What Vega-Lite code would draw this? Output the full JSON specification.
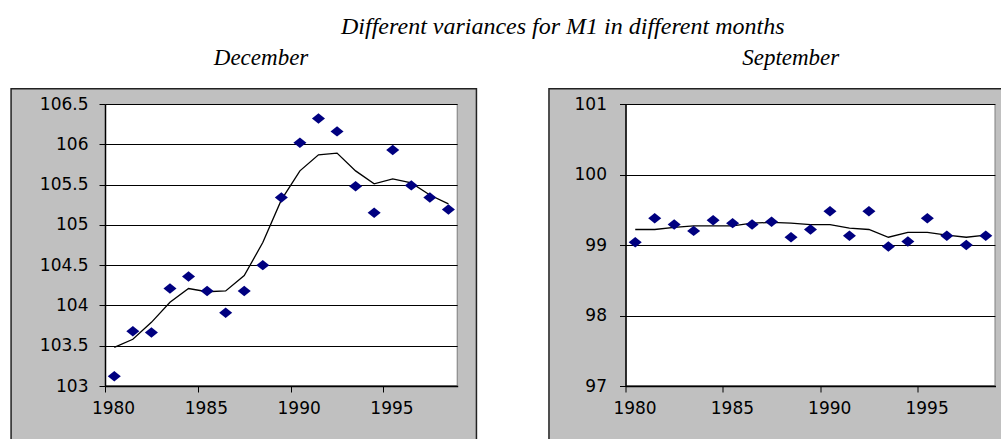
{
  "$schema": "https://vega.github.io/schema/vega-lite/v6.json",
  "background": "white",
  "padding": {"left": 9, "top": 15, "right": 0, "bottom": 0},
  "title": {"text": "Different variances for M1 in different months", "anchor": "middle", "dx": 50, "offset": -12.5, "baseline": "alphabetic", "font": "Liberation Serif", "fontStyle": "italic", "fontWeight": "normal", "fontSize": 24, "color": "black"},
  "bounds": "full",
  "spacing": 67.5,
  "datasets": {
    "dec": [
      {"year": 1980.5, "value": 103.12, "trend": 103.48},
      {"year": 1981.5, "value": 103.68, "trend": 103.58},
      {"year": 1982.5, "value": 103.665, "trend": 103.79},
      {"year": 1983.5, "value": 104.21, "trend": 104.04},
      {"year": 1984.5, "value": 104.36, "trend": 104.21},
      {"year": 1985.5, "value": 104.18, "trend": 104.17},
      {"year": 1986.5, "value": 103.91, "trend": 104.18},
      {"year": 1987.5, "value": 104.18, "trend": 104.37},
      {"year": 1988.5, "value": 104.5, "trend": 104.78},
      {"year": 1989.5, "value": 105.34, "trend": 105.31},
      {"year": 1990.5, "value": 106.02, "trend": 105.67},
      {"year": 1991.5, "value": 106.32, "trend": 105.87},
      {"year": 1992.5, "value": 106.16, "trend": 105.89},
      {"year": 1993.5, "value": 105.48, "trend": 105.67},
      {"year": 1994.5, "value": 105.15, "trend": 105.51},
      {"year": 1995.5, "value": 105.93, "trend": 105.57},
      {"year": 1996.5, "value": 105.49, "trend": 105.52},
      {"year": 1997.5, "value": 105.34, "trend": 105.37},
      {"year": 1998.5, "value": 105.19, "trend": 105.26}
    ],
    "sep": [
      {"year": 1980.5, "value": 99.04, "trend": 99.22},
      {"year": 1981.5, "value": 99.38, "trend": 99.22},
      {"year": 1982.5, "value": 99.29, "trend": 99.25},
      {"year": 1983.5, "value": 99.2, "trend": 99.27},
      {"year": 1984.5, "value": 99.35, "trend": 99.27},
      {"year": 1985.5, "value": 99.31, "trend": 99.27},
      {"year": 1986.5, "value": 99.29, "trend": 99.31},
      {"year": 1987.5, "value": 99.33, "trend": 99.32},
      {"year": 1988.5, "value": 99.11, "trend": 99.31},
      {"year": 1989.5, "value": 99.22, "trend": 99.29},
      {"year": 1990.5, "value": 99.48, "trend": 99.29},
      {"year": 1991.5, "value": 99.13, "trend": 99.24},
      {"year": 1992.5, "value": 99.48, "trend": 99.22},
      {"year": 1993.5, "value": 98.98, "trend": 99.11},
      {"year": 1994.5, "value": 99.05, "trend": 99.18},
      {"year": 1995.5, "value": 99.38, "trend": 99.18},
      {"year": 1996.5, "value": 99.13, "trend": 99.14},
      {"year": 1997.5, "value": 99.0, "trend": 99.11},
      {"year": 1998.5, "value": 99.13, "trend": 99.14}
    ]
  },
  "hconcat": [
    {
      "width": 352.7,
      "height": 282,
      "title": {"text": "December", "dx": -20.3, "offset": 0.4, "baseline": "alphabetic", "font": "Liberation Serif", "fontStyle": "italic", "fontWeight": "normal", "fontSize": 23, "color": "black"},
      "layer": [
        {"data": {"values": [{}]}, "mark": {"type": "rect", "fill": "#c0c0c0"},
         "encoding": {
           "x": {"datum": 1974.94, "type": "quantitative", "scale": {"domain": [1980, 1999], "nice": false, "zero": false}, "axis": null},
           "x2": {"datum": 1980},
           "y": {"datum": 102.18, "type": "quantitative", "scale": {"domain": [103, 106.5], "nice": false, "zero": false}, "axis": null},
           "y2": {"datum": 106.69}}},
        {"data": {"values": [{}]}, "mark": {"type": "rect", "fill": "#c0c0c0"},
         "encoding": {
           "x": {"datum": 1999, "type": "quantitative", "scale": {"domain": [1980, 1999], "nice": false, "zero": false}, "axis": null},
           "x2": {"datum": 2000.01},
           "y": {"datum": 102.18, "type": "quantitative", "scale": {"domain": [103, 106.5], "nice": false, "zero": false}, "axis": null},
           "y2": {"datum": 106.69}}},
        {"data": {"values": [{}]}, "mark": {"type": "rect", "fill": "#c0c0c0"},
         "encoding": {
           "x": {"datum": 1974.94, "type": "quantitative", "scale": {"domain": [1980, 1999], "nice": false, "zero": false}, "axis": null},
           "x2": {"datum": 2000.01},
           "y": {"datum": 106.5, "type": "quantitative", "scale": {"domain": [103, 106.5], "nice": false, "zero": false}, "axis": null},
           "y2": {"datum": 106.69}}},
        {"data": {"values": [{}]}, "mark": {"type": "rect", "fill": "#c0c0c0"},
         "encoding": {
           "x": {"datum": 1974.94, "type": "quantitative", "scale": {"domain": [1980, 1999], "nice": false, "zero": false}, "axis": null},
           "x2": {"datum": 2000.01},
           "y": {"datum": 102.18, "type": "quantitative", "scale": {"domain": [103, 106.5], "nice": false, "zero": false}, "axis": null},
           "y2": {"datum": 103}}},
        {"data": {"values": [{}]}, "mark": {"type": "rect", "fill": null, "stroke": "#222222", "strokeWidth": 1.5},
         "encoding": {
           "x": {"datum": 1974.94, "type": "quantitative", "scale": {"domain": [1980, 1999], "nice": false, "zero": false}, "axis": null},
           "x2": {"datum": 2000.01},
           "y": {"datum": 102.18, "type": "quantitative", "scale": {"domain": [103, 106.5], "nice": false, "zero": false}, "axis": null},
           "y2": {"datum": 106.69}}},
        {"data": {"name": "dec"}, "mark": {"type": "line", "color": "black", "strokeWidth": 1.3},
         "encoding": {
           "x": {"field": "year", "type": "quantitative", "scale": {"domain": [1980, 1999], "nice": false, "zero": false}, "axis": null},
           "y": {"field": "trend", "type": "quantitative", "scale": {"domain": [103, 106.5], "nice": false, "zero": false},
                 "axis": {"orient": "left", "grid": true, "gridColor": "black", "gridWidth": 1, "gridOpacity": 1, "labels": false, "ticks": false, "domain": false, "title": null, "zindex": 0, "values": [103, 103.5, 104, 104.5, 105, 105.5, 106, 106.5]}}}},
        {"data": {"name": "dec"}, "mark": {"type": "point", "shape": "M-1,0L0,-0.8L1,0L0,0.8Z", "size": 170, "filled": true, "color": "#000080", "opacity": 1},
         "encoding": {
           "x": {"field": "year", "type": "quantitative", "scale": {"domain": [1980, 1999], "nice": false, "zero": false},
                 "axis": {"orient": "bottom", "grid": false, "values": [1980, 1985, 1990, 1995], "format": "d", "title": null, "zindex": 1, "domainColor": "black", "domainWidth": 1.5, "tickColor": "black", "tickSize": 6, "tickWidth": 1, "labelFlush": false, "labelOffset": 8, "labelPadding": 8, "labelFont": "DejaVu Sans", "labelFontSize": 17, "labelColor": "black"}},
           "y": {"field": "value", "type": "quantitative", "scale": {"domain": [103, 106.5], "nice": false, "zero": false},
                 "axis": {"orient": "left", "grid": false, "values": [103, 103.5, 104, 104.5, 105, 105.5, 106, 106.5], "format": "~g", "title": null, "zindex": 1, "domainColor": "black", "domainWidth": 1.5, "tickColor": "black", "tickSize": 6, "tickWidth": 1, "labelFlush": false, "labelPadding": 11, "labelFont": "DejaVu Sans", "labelFontSize": 17, "labelColor": "black"}}}}
      ],
      "resolve": {"axis": {"x": "independent", "y": "independent"}}
    },
    {
      "width": 370,
      "height": 282,
      "title": {"text": "September", "dx": -19.8, "offset": 0.4, "baseline": "alphabetic", "font": "Liberation Serif", "fontStyle": "italic", "fontWeight": "normal", "fontSize": 23, "color": "black"},
      "layer": [
        {"data": {"values": [{}]}, "mark": {"type": "rect", "fill": "#c0c0c0"},
         "encoding": {
           "x": {"datum": 1976.07, "type": "quantitative", "scale": {"domain": [1980, 1999], "nice": false, "zero": false}, "axis": null},
           "x2": {"datum": 1980},
           "y": {"datum": 96.064, "type": "quantitative", "scale": {"domain": [97, 101], "nice": false, "zero": false}, "axis": null},
           "y2": {"datum": 101.217}}},
        {"data": {"values": [{}]}, "mark": {"type": "rect", "fill": "#c0c0c0"},
         "encoding": {
           "x": {"datum": 1999, "type": "quantitative", "scale": {"domain": [1980, 1999], "nice": false, "zero": false}, "axis": null},
           "x2": {"datum": 1999.976},
           "y": {"datum": 96.064, "type": "quantitative", "scale": {"domain": [97, 101], "nice": false, "zero": false}, "axis": null},
           "y2": {"datum": 101.217}}},
        {"data": {"values": [{}]}, "mark": {"type": "rect", "fill": "#c0c0c0"},
         "encoding": {
           "x": {"datum": 1976.07, "type": "quantitative", "scale": {"domain": [1980, 1999], "nice": false, "zero": false}, "axis": null},
           "x2": {"datum": 1999.976},
           "y": {"datum": 101, "type": "quantitative", "scale": {"domain": [97, 101], "nice": false, "zero": false}, "axis": null},
           "y2": {"datum": 101.217}}},
        {"data": {"values": [{}]}, "mark": {"type": "rect", "fill": "#c0c0c0"},
         "encoding": {
           "x": {"datum": 1976.07, "type": "quantitative", "scale": {"domain": [1980, 1999], "nice": false, "zero": false}, "axis": null},
           "x2": {"datum": 1999.976},
           "y": {"datum": 96.064, "type": "quantitative", "scale": {"domain": [97, 101], "nice": false, "zero": false}, "axis": null},
           "y2": {"datum": 97}}},
        {"data": {"values": [{}]}, "mark": {"type": "rect", "fill": null, "stroke": "#222222", "strokeWidth": 1.5},
         "encoding": {
           "x": {"datum": 1976.07, "type": "quantitative", "scale": {"domain": [1980, 1999], "nice": false, "zero": false}, "axis": null},
           "x2": {"datum": 1999.976},
           "y": {"datum": 96.064, "type": "quantitative", "scale": {"domain": [97, 101], "nice": false, "zero": false}, "axis": null},
           "y2": {"datum": 101.217}}},
        {"data": {"name": "sep"}, "mark": {"type": "line", "color": "black", "strokeWidth": 1.3},
         "encoding": {
           "x": {"field": "year", "type": "quantitative", "scale": {"domain": [1980, 1999], "nice": false, "zero": false}, "axis": null},
           "y": {"field": "trend", "type": "quantitative", "scale": {"domain": [97, 101], "nice": false, "zero": false},
                 "axis": {"orient": "left", "grid": true, "gridColor": "black", "gridWidth": 1, "gridOpacity": 1, "labels": false, "ticks": false, "domain": false, "title": null, "zindex": 0, "values": [97, 98, 99, 100, 101]}}}},
        {"data": {"name": "sep"}, "mark": {"type": "point", "shape": "M-1,0L0,-0.8L1,0L0,0.8Z", "size": 170, "filled": true, "color": "#000080", "opacity": 1},
         "encoding": {
           "x": {"field": "year", "type": "quantitative", "scale": {"domain": [1980, 1999], "nice": false, "zero": false},
                 "axis": {"orient": "bottom", "grid": false, "values": [1980, 1985, 1990, 1995], "format": "d", "title": null, "zindex": 1, "domainColor": "black", "domainWidth": 1.5, "tickColor": "black", "tickSize": 6, "tickWidth": 1, "labelFlush": false, "labelOffset": 9, "labelPadding": 8, "labelFont": "DejaVu Sans", "labelFontSize": 17, "labelColor": "black"}},
           "y": {"field": "value", "type": "quantitative", "scale": {"domain": [97, 101], "nice": false, "zero": false},
                 "axis": {"orient": "left", "grid": false, "values": [97, 98, 99, 100, 101], "format": "d", "title": null, "zindex": 1, "domainColor": "black", "domainWidth": 1.5, "tickColor": "black", "tickSize": 6, "tickWidth": 1, "labelFlush": false, "labelPadding": 13, "labelFont": "DejaVu Sans", "labelFontSize": 17, "labelColor": "black"}}}}
      ],
      "resolve": {"axis": {"x": "independent", "y": "independent"}}
    }
  ],
  "config": {
    "view": {"stroke": "#808080", "strokeWidth": 2, "fill": "white"}
  }
}
